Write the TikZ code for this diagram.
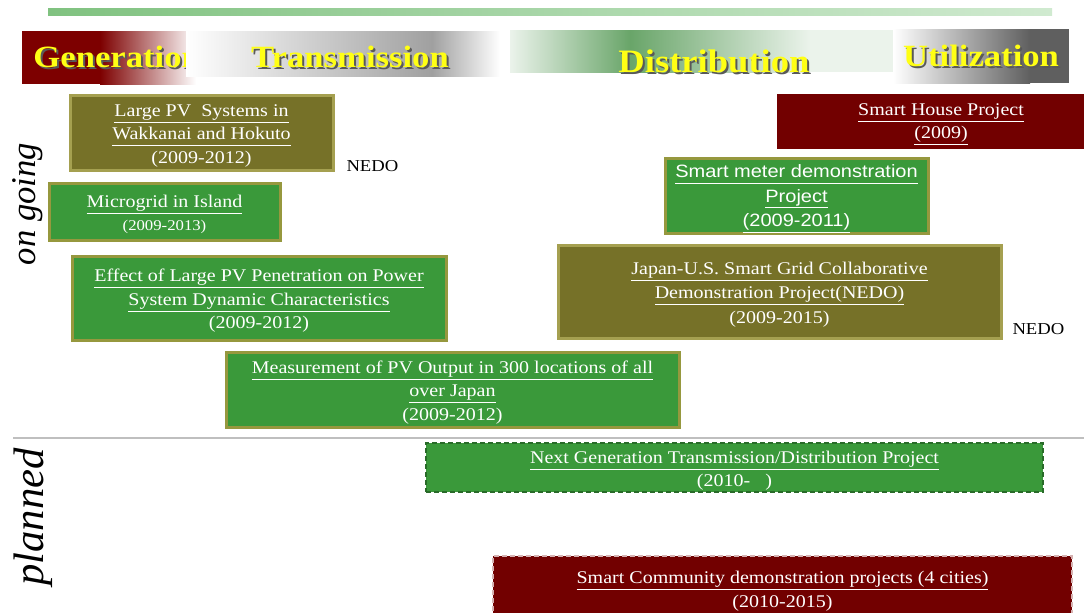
\documentclass[tikz,border=0pt]{standalone}
\usepackage{fontspec}
\setmainfont{Liberation Serif}[FakeStretch=1.12]
\newfontfamily\arialfont{Liberation Sans}[FakeStretch=1.12]
\newfontfamily\phasefont{Liberation Serif}

\definecolor{boxgreen}{RGB}{58,153,58}
\definecolor{greenedge}{RGB}{150,152,62}
\definecolor{boxolive}{RGB}{118,113,40}
\definecolor{oliveedge}{RGB}{165,160,80}
\definecolor{boxred}{RGB}{114,0,0}
\definecolor{headred}{RGB}{125,0,0}
\definecolor{headgray}{RGB}{160,160,160}
\definecolor{usegray}{RGB}{95,95,95}
\definecolor{distgreen}{RGB}{105,165,105}
\definecolor{distlight}{RGB}{235,243,235}
\definecolor{rulegreen}{RGB}{128,194,128}
\definecolor{rulelight}{RGB}{208,234,208}
\definecolor{headyellow}{RGB}{255,255,20}

\newcommand{\hdshadow}[1]{\makebox[0pt][l]{\color{black!65}\hspace{1.5pt}\raisebox{-1.5pt}{#1}}#1}
\newcommand{\ulink}[1]{\underline{#1\vphantom{y}}}
\newcommand{\boxstrut}{\rule{0pt}{14pt}}

\tikzset{every picture/.style={line width=0.75pt},
  project/.style={draw, line width=2.25pt, text=white, align=center, inner sep=0pt,
    font=\fontsize{13.4}{17.6}\selectfont},
  greenbox/.style={project, fill=boxgreen, draw=greenedge},
  olivebox/.style={project, fill=boxolive, draw=oliveedge},
  redbox/.style={project, fill=boxred, draw=boxred},
  planbox/.style={project, line width=1.5pt, dash pattern=on 4pt off 2pt},
  header/.style={font=\fontsize{23.2}{28}\selectfont\bfseries, text=headyellow, inner sep=0pt},
  nedo/.style={font=\fontsize{12.5}{15}\selectfont, inner sep=0pt},
  phase/.style={rotate=90, inner sep=0pt}
}

\begin{document}
\begin{tikzpicture}[x=0.75pt,y=0.75pt,yscale=-1,xscale=1]
\useasboundingbox (0,0) rectangle (1084,612);
\clip (0,0) rectangle (1084,612);

%Shape: Top rule
\shade [left color=rulegreen, right color=rulelight] (48,8) rectangle (1052,15);

%Shape: Generation band
\fill [headred] (22,31) rectangle (100,84);
\shade [left color=headred, right color=white] (100,31) rectangle (196,84);
% Text Node
\node (gen) [header, anchor=west] at (33,58) {\hdshadow{Generation}};
%Shape: Transmission band
\shade [left color=white, right color=headgray] (186,31) rectangle (432,76);
\shade [left color=headgray, right color=white] (432,31) rectangle (500,76);
% Text Node
\node (trans) [header] at (350,58) {\hdshadow{Transmission}};
%Shape: Distribution band
\shade [left color=distlight, right color=distgreen] (510,30) rectangle (630,72);
\shade [left color=distgreen, right color=distlight] (630,30) rectangle (810,72);
\fill [distlight] (810,30) rectangle (895,72);
% Text Node
\node (dist) [header, font=\fontsize{24.5}{28}\selectfont\bfseries] at (714,62) {\hdshadow{Distribution}};
%Shape: Utilization band
\shade [left color=white, right color=usegray] (893,29) rectangle (1030,83);
\fill [usegray] (1030,29) rectangle (1069,83);
% Text Node
\node (util) [header] at (981,57) {\hdshadow{Utilization}};

% Text Node
\node (ongoing) [phase, font=\phasefont\itshape\fontsize{26}{30}\selectfont] at (28,204) {on going};
\node (planned) [phase, font=\phasefont\itshape\fontsize{32}{36}\selectfont] at (33,517) {planned};
%Straight Lines
\draw [color=black!25, line width=1.2pt] (13,438) -- (1084,438);

%Shape: Ongoing projects
\node (largepv) [olivebox, minimum width=197.25pt, minimum height=56.25pt] at (201.5,132.5)
  {\boxstrut\ulink{Large PV\ \ Systems in}\\ \ulink{Wakkanai and Hokuto}\\ (2009-2012)};
\node (nedoa) [nedo, anchor=west] at (346,166) {NEDO};
\node (microgrid) [greenbox, minimum width=173.25pt, minimum height=42.75pt] at (164.5,211.5)
  {\boxstrut\ulink{Microgrid in Island}\\ {\fontsize{11.2}{15}\selectfont (2009-2013)}};
\node (effect) [greenbox, minimum width=280.5pt, minimum height=63pt] at (259,298)
  {\boxstrut\ulink{Effect of Large PV Penetration on Power}\\ \ulink{System Dynamic Characteristics}\\ (2009-2012)};
\node (measure) [greenbox, minimum width=339.75pt, minimum height=56.25pt] at (452.5,389.5)
  {\boxstrut\ulink{Measurement of PV Output in 300 locations of all}\\ \ulink{over Japan}\\ (2009-2012)};
\node (smarthouse) [redbox, minimum width=244.5pt, minimum height=39pt] at (941,121)
  {\boxstrut\ulink{Smart House Project}\\ \ulink{(2009)}};
\node (smartmeter) [greenbox, minimum width=197.25pt, minimum height=54pt,
  font=\arialfont\fontsize{13.4}{18.4}\selectfont] at (796.5,196)
  {\boxstrut\ulink{Smart meter demonstration}\\ \ulink{Project}\\ \ulink{(2009-2011)}};
\node (japanus) [olivebox, minimum width=332.25pt, minimum height=69.75pt,
  font=\fontsize{13.4}{18.2}\selectfont] at (779.5,291.5)
  {\boxstrut\ulink{Japan-U.S. Smart Grid Collaborative}\\ \ulink{Demonstration Project(NEDO)}\\ (2009-2015)};
\node (nedob) [nedo, anchor=west] at (1012,329) {NEDO};

%Shape: Planned projects
\node (nextgen) [planbox, fill=boxgreen, draw=boxgreen!70!black, minimum width=462.75pt, minimum height=36.75pt] at (734.5,467.5)
  {\boxstrut\ulink{Next Generation Transmission/Distribution Project}\\ (2010-\ \ \ )};
\node (community) [planbox, fill=boxred, draw=white!70!boxred, minimum width=434.25pt, minimum height=48pt] at (782.5,588)
  {\boxstrut\ulink{Smart Community demonstration projects (4 cities)}\\ (2010-2015)};

\end{tikzpicture}
\end{document}
